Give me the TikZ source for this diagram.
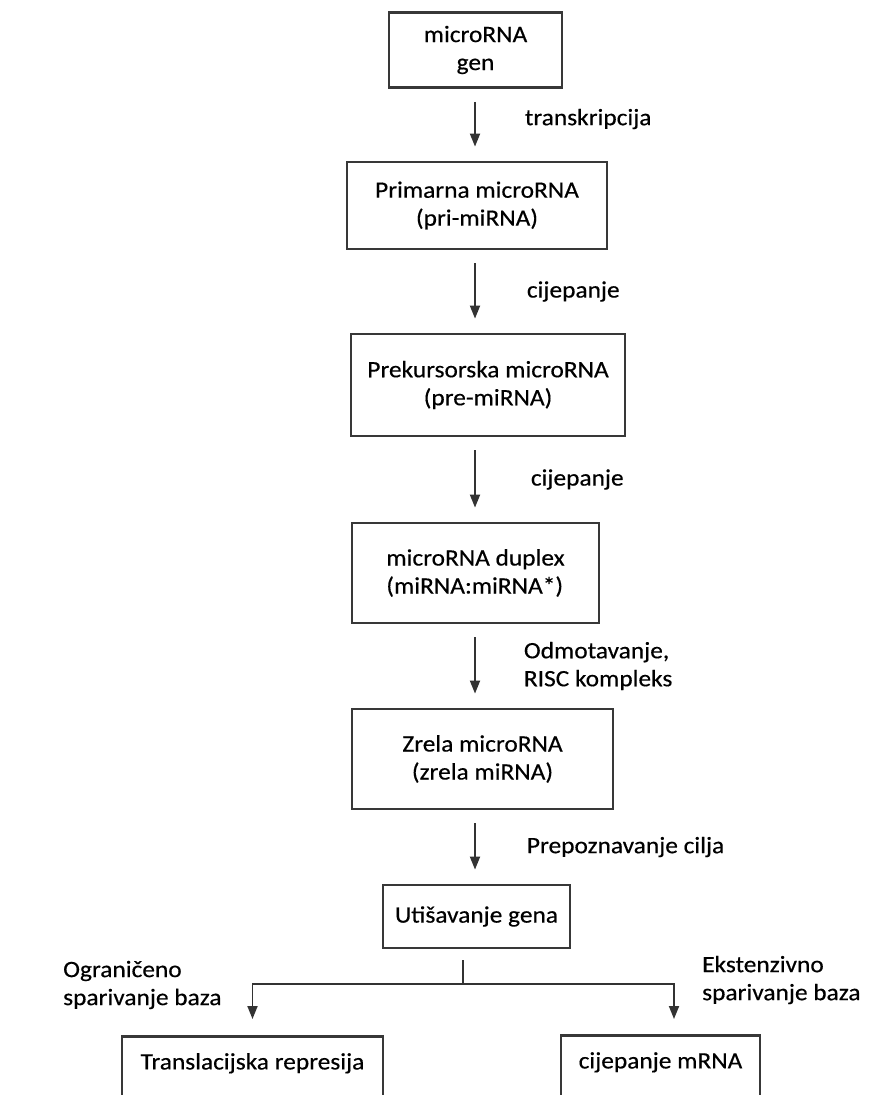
\documentclass[tikz,border=0pt]{standalone}
\usepackage{fontspec}
\setmainfont{Carlito}[FakeStretch=1.08,FakeBold=0.4]
\usetikzlibrary{arrows.meta,positioning}
\def\fs{\fontsize{23.5}{28}\selectfont}
\tikzset{
  box/.style={draw=black!78, line width=2.8pt, inner sep=0pt, font=\fs, align=center},
  lbl/.style={inner sep=0pt, font=\fs, align=left, anchor=west},
  arr/.style={draw=black!80, line width=1.8pt, -{Triangle[length=13pt,width=10pt]},
    shorten <=13pt, shorten >=14pt},
  ln/.style={draw=black!80, line width=1.8pt},
}

\begin{document}
\begin{tikzpicture}[x=1pt,y=-1pt]
    \useasboundingbox (0,0) rectangle (873,1095);
    \clip (0,0) rectangle (873,1095);
    \coordinate (ax) at (475,0);
    % main chain
    \node[box, minimum width=173pt, minimum height=75pt]  (gen)  at (475.5,50)  {microRNA\\gen};
    \node[box, minimum width=260pt, minimum height=87pt]  (pri)  at (477,205.5) {Primarna microRNA\\(pri-miRNA)};
    \node[box, minimum width=274pt, minimum height=102pt] (pre)  at (488,385)   {Prekursorska microRNA\\(pre-miRNA)};
    \node[box, minimum width=247pt, minimum height=100pt, align=left] (dup) at (475.5,573) {microRNA duplex\\(miRNA:miRNA*)};
    \node[box, minimum width=261pt, minimum height=100pt] (zre)  at (482.5,759) {Zrela microRNA\\(zrela miRNA)};
    \node[box, minimum width=187pt, minimum height=63pt]  (sil)  at (476.5,916.5) {Utišavanje gena};
    % outcomes, cut off at the bottom
    \node[box, anchor=north, minimum width=261pt, text height=33pt, text depth=60pt] (trl) at (252.5,1035) {Translacijska represija};
    \node[box, anchor=north, minimum width=199pt, text height=33pt, text depth=60pt] (cle) at (660.5,1034) {cijepanje mRNA};

    \draw[arr] (gen.south -| ax) -- node[lbl, pos=.42, right=49pt] {transkripcija} (pri.north -| ax);
    \draw[arr] (pri.south -| ax) -- node[lbl, right=51pt] {cijepanje} (pre.north -| ax);
    \draw[arr] (pre.south -| ax) -- node[lbl, right=55pt] {cijepanje} (dup.north -| ax);
    \draw[arr] (dup.south -| ax) -- node[lbl, right=48pt] {Odmotavanje,\\RISC kompleks} (zre.north -| ax);
    \draw[arr] (zre.south -| ax) -- node[lbl, right=51pt] {Prepoznavanje cilja} (sil.north -| ax);

    % split
    \coordinate (split) at (463,984);
    \draw[ln] ([yshift=-11pt]sil.south -| split) -- (split);
    \draw[arr, shorten <=0pt, shorten >=16pt] (split) -| (trl.north);
    \draw[arr, shorten <=0pt, shorten >=15pt] (split) -| ([xshift=13.5pt]cle.north);
    \node[lbl] (lim) at (63,985)  {Ograničeno\\sparivanje baza};
    \node[lbl] (ext) at (702,980) {Ekstenzivno\\sparivanje baza};
\end{tikzpicture}
\end{document}
